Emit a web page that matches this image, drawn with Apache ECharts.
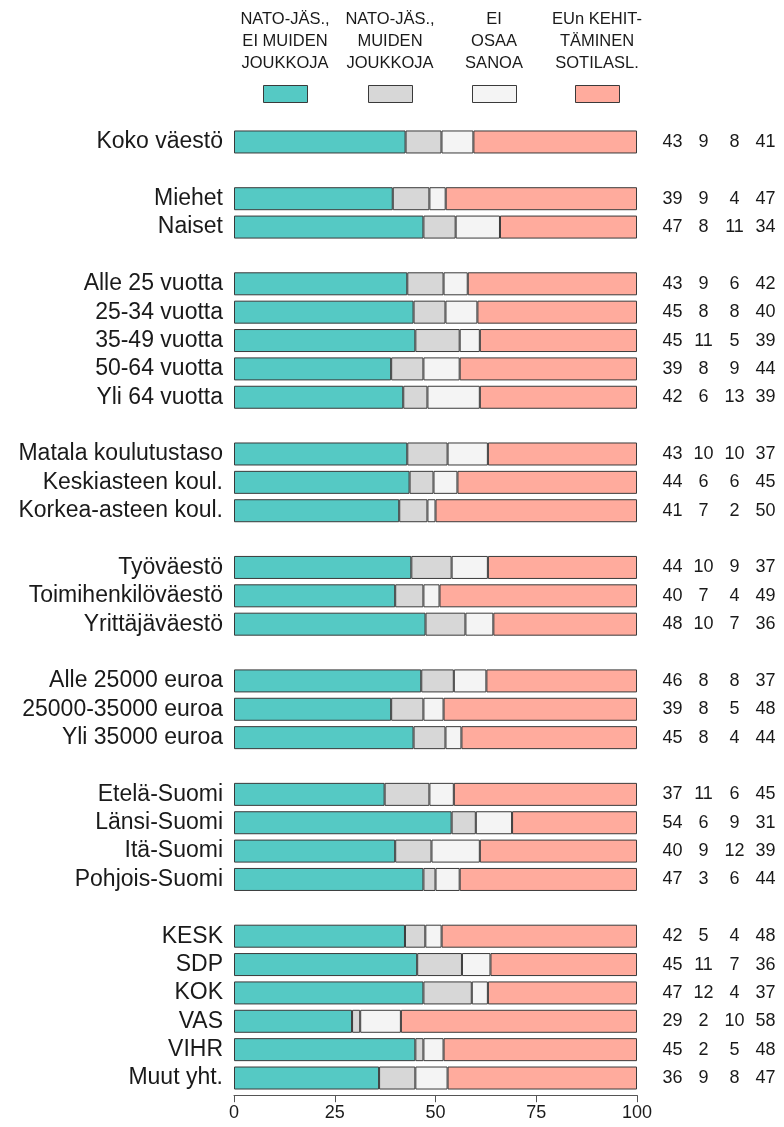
<!DOCTYPE html>
<html>
<head>
<meta charset="utf-8">
<script src="https://cdn.jsdelivr.net/npm/echarts@6/dist/echarts.min.js"></script>
<style>
html,body{margin:0;padding:0;background:#fff;}
#chart{width:784px;height:1127px;}
</style>
</head>
<body>
<div id="chart"></div>
<script>
// Rows (empty strings are the spacer rows between groups)
const categories = ['Koko väestö', '',
  'Miehet', 'Naiset', '',
  'Alle 25 vuotta', '25-34 vuotta', '35-49 vuotta', '50-64 vuotta', 'Yli 64 vuotta', '',
  'Matala koulutustaso', 'Keskiasteen koul.', 'Korkea-asteen koul.', '',
  'Työväestö', 'Toimihenkilöväestö', 'Yrittäjäväestö', '',
  'Alle 25000 euroa', '25000-35000 euroa', 'Yli 35000 euroa', '',
  'Etelä-Suomi', 'Länsi-Suomi', 'Itä-Suomi', 'Pohjois-Suomi', '',
  'KESK', 'SDP', 'KOK', 'VAS', 'VIHR', 'Muut yht.'];

const natoEiMuiden = [43, null, 39, 47, null, 43, 45, 45, 39, 42, null, 43, 44, 41, null, 44, 40, 48, null, 46, 39, 45, null, 37, 54, 40, 47, null, 42, 45, 47, 29, 45, 36];
const natoMuiden   = [9,  null, 9,  8,  null, 9,  8,  11, 8,  6,  null, 10, 6,  7,  null, 10, 7,  10, null, 8,  8,  8,  null, 11, 6,  9,  3,  null, 5,  11, 12, 2,  2,  9];
const eiOsaa       = [8,  null, 4,  11, null, 6,  8,  5,  9,  13, null, 10, 6,  2,  null, 9,  4,  7,  null, 8,  5,  4,  null, 6,  9,  12, 6,  null, 4,  7,  4,  10, 5,  8];
const euKehit      = [41, null, 47, 34, null, 42, 40, 39, 44, 39, null, 37, 45, 50, null, 37, 49, 36, null, 37, 48, 44, null, 45, 31, 39, 44, null, 48, 36, 37, 58, 48, 47];

const seriesNames = ['NATO-JÄS.,\nEI MUIDEN\nJOUKKOJA', 'NATO-JÄS.,\nMUIDEN\nJOUKKOJA', 'EI\nOSAA\nSANOA', 'EUn KEHIT-\nTÄMINEN\nSOTILASL.'];
const xTicks = [0, 25, 50, 75, 100];

const colors = ['#55C9C4', '#D7D7D7', '#F4F4F4', '#FFAB9D'];
const allSeries = [natoEiMuiden, natoMuiden, eiOsaa, euKehit];

function pct(arr) {
  return arr.map((v, i) => {
    if (v == null) return null;
    const tot = natoEiMuiden[i] + natoMuiden[i] + eiOsaa[i] + euKehit[i];
    return v / tot * 100;
  });
}

const FONT = '"Liberation Sans", Arial, sans-serif';
const chart = echarts.init(document.getElementById('chart'), null, {renderer: 'canvas'});

const series = allSeries.map((arr, k) => ({
  name: seriesNames[k],
  type: 'bar',
  stack: 'all',
  barWidth: 23,
  data: pct(arr),
  itemStyle: {color: colors[k], borderColor: '#3a3a3a', borderWidth: 1},
  emphasis: {disabled: true},
  label: k === 3 ? {
    show: true,
    position: 'right',
    distance: 20,
    fontFamily: FONT,
    fontSize: 18,
    color: '#1a1a1a',
    formatter: p => {
      const i = p.dataIndex;
      if (natoEiMuiden[i] == null) return '';
      return '{a|' + natoEiMuiden[i] + '}{b|' + natoMuiden[i] + '}{c|' + eiOsaa[i] + '}{d|' + euKehit[i] + '}';
    },
    rich: {
      a: {width: 31, align: 'center', fontSize: 18, fontFamily: FONT, color: '#1a1a1a'},
      b: {width: 31, align: 'center', fontSize: 18, fontFamily: FONT, color: '#1a1a1a'},
      c: {width: 31, align: 'center', fontSize: 18, fontFamily: FONT, color: '#1a1a1a'},
      d: {width: 31, align: 'center', fontSize: 18, fontFamily: FONT, color: '#1a1a1a'}
    }
  } : {show: false}
}));

// legend drawn as graphics: text block above a box
const legendCenters = [285, 390, 494, 597];
const graphics = [];
seriesNames.forEach((n, k) => {
  graphics.push({
    type: 'text',
    left: legendCenters[k] - 60,
    top: 9,
    style: {
      text: n,
      width: 120,
      align: 'center',
      x: 60,
      textAlign: 'center',
      font: '16.5px "Liberation Sans", Arial, sans-serif',
      lineHeight: 21.7,
      fill: '#1a1a1a'
    }
  });
  graphics.push({
    type: 'rect',
    left: legendCenters[k] - 22,
    top: 85,
    shape: {width: 44, height: 17},
    style: {fill: colors[k], stroke: '#3a3a3a', lineWidth: 1}
  });
});

chart.setOption({
  animation: false,
  backgroundColor: '#ffffff',
  grid: {left: 234, right: 147, top: 127.8, height: 964.4, containLabel: false},
  xAxis: {
    type: 'value',
    min: 0, max: 100, interval: 25,
    offset: 3,
    axisLine: {show: true, lineStyle: {color: '#555', width: 1}},
    axisTick: {show: true, length: 7, lineStyle: {color: '#555'}},
    splitLine: {show: false},
    axisLabel: {
      fontFamily: FONT, fontSize: 18, color: '#1a1a1a', margin: 9,
      formatter: v => xTicks.indexOf(v) >= 0 ? String(v) : ''
    }
  },
  yAxis: {
    type: 'category',
    data: categories,
    inverse: true,
    axisLine: {show: false},
    axisTick: {show: false},
    axisLabel: {fontFamily: FONT, fontSize: 23, color: '#1a1a1a', margin: 11, interval: 0}
  },
  series: series,
  graphic: graphics
});
</script>
</body>
</html>
